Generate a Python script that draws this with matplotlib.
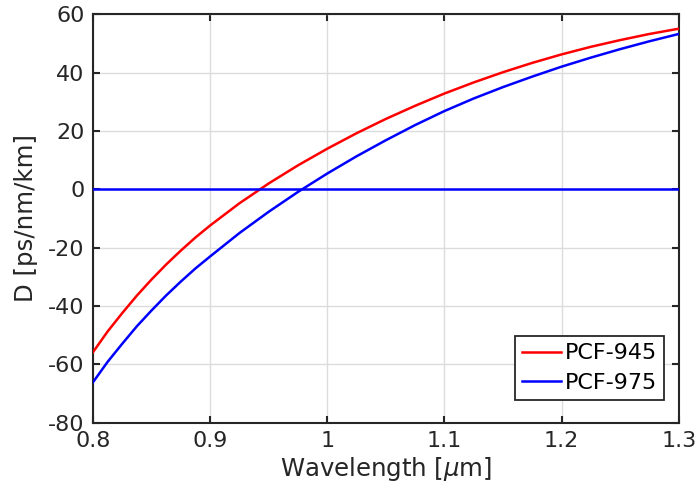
import matplotlib
matplotlib.use("Agg")
import matplotlib.pyplot as plt

wavelength = [0.800, 0.8125, 0.825, 0.8375, 0.850, 0.8625, 0.875, 0.8875, 0.900, 0.925, 0.950,
              0.975, 1.000, 1.025, 1.050, 1.075, 1.100, 1.125, 1.150, 1.175, 1.200, 1.225,
              1.250, 1.275, 1.300]
pcf945 = [-55.8, -48.7, -42.4, -36.4, -30.9, -25.75, -21.0, -16.5, -12.4, -4.8, 2.0,
          8.2, 13.9, 19.2, 24.1, 28.6, 32.8, 36.6, 40.1, 43.3, 46.2, 48.8,
          51.1, 53.2, 55.0]
pcf975 = [-66.1, -59.1, -52.9, -46.9, -41.5, -36.35, -31.6, -27.1, -23.0, -15.0, -7.7,
          -0.9, 5.4, 11.3, 16.8, 22.0, 26.8, 31.1, 35.0, 38.6, 42.0, 45.1,
          48.0, 50.7, 53.2]
zero_x = [0.8, 1.3]
zero_y = [0, 0]
labels = ["PCF-945", "PCF-975"]
xticks = [0.8, 0.9, 1.0, 1.1, 1.2, 1.3]
xticklabels = ["0.8", "0.9", "1", "1.1", "1.2", "1.3"]
yticks = [-80, -60, -40, -20, 0, 20, 40, 60]

plt.rcParams['font.family'] = ['DejaVu Sans']
plt.rcParams['axes.unicode_minus'] = False
plt.rcParams['mathtext.fontset'] = 'dejavusans'
fig = plt.figure(figsize=(6.99, 5.04), dpi=100)
ax = fig.add_axes([0.133, 0.161, 0.838, 0.811])

ax.plot(wavelength, pcf945, color=(1, 0, 0), lw=1.8, label=labels[0], zorder=3,
        solid_joinstyle='round')
ax.plot(wavelength, pcf975, color=(0, 0, 1), lw=1.8, label=labels[1], zorder=3,
        solid_joinstyle='round')
ax.plot(zero_x, zero_y, color=(0, 0, 1), lw=1.8, zorder=3)

ax.set_xlim(0.8, 1.3)
ax.set_ylim(-80, 60)
ax.set_xticks(xticks)
ax.set_xticklabels(xticklabels)
ax.set_yticks(yticks)
ax.grid(True, color='#dcdcdc', lw=1.0)
ax.set_axisbelow(True)
for s in ax.spines.values():
    s.set_color('#262626')
    s.set_linewidth(1.5)
ax.tick_params(direction='in', length=5, width=1.5, colors='#262626',
               labelsize=16, top=True, right=True)
ax.tick_params(axis='x', pad=6)
ax.tick_params(axis='y', pad=6)
ax.set_xlabel(r"Wavelength [$\mu$m]", fontsize=17.6, color='#262626', labelpad=3)
ax.set_ylabel("D [ps/nm/km]", fontsize=17.6, color='#262626', labelpad=7)

leg = ax.legend(loc='lower right', bbox_to_anchor=(0.975, 0.056), fontsize=16,
                frameon=True, fancybox=False, framealpha=1, edgecolor='#262626',
                handlelength=1.77, handletextpad=0.15, borderpad=0.33, labelspacing=0.42,
                borderaxespad=0)
leg.get_frame().set_linewidth(1.3)

fig.savefig("out.png", dpi=100)
